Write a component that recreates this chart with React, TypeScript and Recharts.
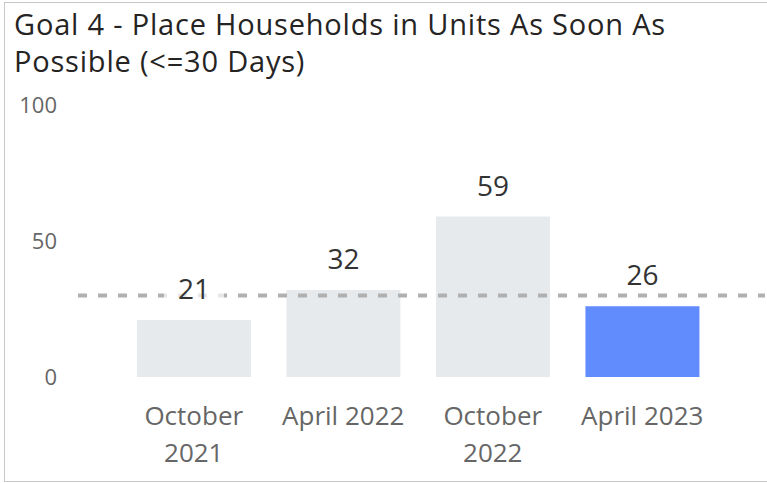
import React from 'react';
import { BarChart, Bar, XAxis, YAxis, Cell, LabelList, ReferenceLine } from 'recharts';

const categories = ['October 2021', 'April 2022', 'October 2022', 'April 2023'];
const values = [21, 32, 59, 26];
const yTicks = [0, 50, 100];
const goal = 30;
const highlighted = 'April 2023';

const title = 'Goal 4 - Place Households in Units As Soon As Possible (<=30 Days)';

const data = categories.map((name, i) => ({ name, value: values[i] }));

const tickFont = "'Segoe UI', 'Open Sans', sans-serif";

const XTick = (props: any) => {
  const { x, y, payload } = props;
  const text: string = payload.value;
  const lines = text.length > 10 ? text.split(' ') : [text];
  return (
    <text x={x} y={y} textAnchor="middle" fill="#666666" fontSize={26} fontFamily={tickFont}>
      {lines.map((l, i) => (
        <tspan key={i} x={x} dy={i === 0 ? 40 : 37}>{l}</tspan>
      ))}
    </text>
  );
};

const ValueLabel = (props: any) => {
  const { x, y, width, value } = props;
  const cx = x + width / 2;
  const ty = y - 32;
  return (
    <g>
      <rect x={cx - 30} y={ty - 16} width={60} height={30} fill="#ffffff" fillOpacity={0.7} />
      <text x={cx} y={ty} textAnchor="middle" dominantBaseline="central" fill="#333333" fontSize={28} fontFamily={tickFont}>
        {value}
      </text>
    </g>
  );
};

const App: React.FC = () => {
  return (
    <div style={{ position: 'absolute', left: 0, top: 0, width: 767, height: 483, background: '#fff' }}>
      <div
        style={{
          position: 'absolute',
          left: 4,
          top: 2,
          width: 765,
          height: 478,
          border: '1px solid #c8c8c8',
          borderRight: 'none',
        }}
      />
      <div
        style={{
          position: 'absolute',
          left: 14,
          top: 5,
          width: 700,
          fontFamily: "DIN, 'Open Sans', sans-serif",
          fontSize: 29,
          letterSpacing: 0.8,
          lineHeight: '37px',
          color: '#252423',
        }}
      >
        {title}
      </div>
      <div style={{ position: 'absolute', left: 0, top: 0 }}>
        <BarChart
          width={767}
          height={483}
          data={data}
          margin={{ top: 105, right: 2, bottom: 6, left: 0 }}
          barCategoryGap="12%"
        >
          <XAxis
            dataKey="name"
            axisLine={false}
            tickLine={false}
            height={100}
            padding={{ left: 41, right: 48 }}
            interval={0}
            tick={<XTick />}
          />
          <YAxis
            domain={[0, 100]}
            ticks={yTicks}
            axisLine={false}
            tickLine={false}
            width={78}
            tickSize={0}
            tickMargin={21}
            tick={{ fill: '#666666', fontSize: 22, fontFamily: tickFont }}
          />
          <Bar dataKey="value" isAnimationActive={false}>
            {data.map((d) => (
              <Cell key={d.name} fill={d.name === highlighted ? '#618CFE' : '#E7EAED'} />
            ))}
            <LabelList dataKey="value" content={<ValueLabel />} />
          </Bar>
          <ReferenceLine y={goal} stroke="#B0B0B0" strokeWidth={4} strokeDasharray="9 11" />
        </BarChart>
      </div>
    </div>
  );
};

export default App;
